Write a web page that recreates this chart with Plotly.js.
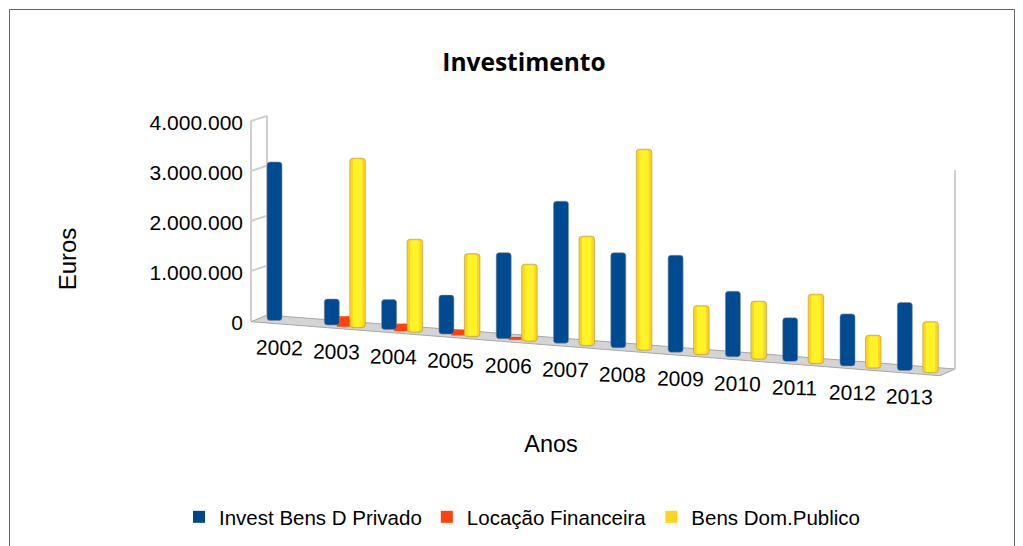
<!DOCTYPE html>
<html>
<head>
<meta charset="utf-8">
<script src="https://cdn.plot.ly/plotly-3.0.1.min.js"></script>
<style>html,body{margin:0;padding:0;background:#fff;overflow:hidden}</style>
</head>
<body>
<div id="chart" style="width:1023px;height:546px"></div>
<script>
const years = [2002,2003,2004,2005,2006,2007,2008,2009,2010,2011,2012,2013];
const investPrivado = [3170000,520000,600000,780000,1720000,2840000,1900000,1940000,1310000,870000,1040000,1360000];
const locacao = [null,210000,150000,120000,60000,null,null,null,null,null,null,null];
const bensPublico = [null,3390000,1860000,1660000,1540000,2190000,4020000,980000,1160000,1390000,660000,1020000];
const seriesNames = ['Invest Bens D Privado','Locação Financeira','Bens Dom.Publico'];
const seriesColors = ['#004586','#ff420e','#ffd320'];
const tickVals = [0,1000000,2000000,3000000,4000000];
const tickText = ['0','1.000.000','2.000.000','3.000.000','4.000.000'];

// Perspective of the sloping floor, expressed in axis units
const euroPerPx = 20000;           // 50 px per million
const yrPerPx = 1 / 57.3;          // one year = 57.3 px
const floorBase = (start, step) => years.map((y, i) => -(start + step * i) * euroPerPx);
const baseBlue = floorBase(-2.5, 4.54);
const baseRed = floorBase(-0.7, 4.4);
const baseYellow = floorBase(0.2, 4.5);
const fontSans = '"Liberation Sans", Arial, sans-serif';

function bar(name, vals, base, color, left, width, lineColor, radius) {
  return {
    type: 'bar', name: name, x: years, y: vals, base: base, showlegend: false,
    offset: left * yrPerPx, width: width * yrPerPx,
    marker: {color: color, cornerradius: radius, line: {color: lineColor, width: lineColor === 'rgba(0,0,0,0)' ? 0 : 1}}
  };
}

// Square legend keys: empty traces so the rounded bar tops do not round the keys
const legendKeys = seriesNames.map((name, k) => ({
  type: 'bar', name: name, x: [years[0]], y: [null], legendrank: k + 1,
  marker: {color: seriesColors[k]}
}));

const traces = [
  bar(seriesNames[1], locacao, baseRed, seriesColors[1], 5, 13, 'rgba(0,0,0,0)', 0),
  bar(seriesNames[0], investPrivado, baseBlue, '#004a92', -7.5, 15, 'rgba(130,140,150,0.55)', 3),
  bar(seriesNames[2], bensPublico, baseYellow, seriesColors[2], 18, 15.5, 'rgba(170,150,60,0.6)', 3),
  bar(seriesNames[2], bensPublico.map(v => v === null ? null : v - 40000), baseYellow.map(v => v + 20000), '#fff226', 21, 9.5, 'rgba(0,0,0,0)', 2)
].concat(legendKeys);

// Floor and wall furniture in axis units
const X = px => 2002 + (px - 274.5) * yrPerPx;
const Y = px => (323 - px) * euroPerPx;
const wall = {color: '#cfcfcf', width: 2};
const seg = (a, b, c, d) => ({type: 'line', xref: 'x', yref: 'y', x0: X(a), y0: Y(b), x1: X(c), y1: Y(d), line: wall, layer: 'below'});
const shapes = [
  {type: 'path', xref: 'x', yref: 'y', layer: 'below', fillcolor: '#d4d4d4',
   line: {color: '#a8a8a8', width: 1},
   path: `M ${X(251)} ${Y(321.7)} L ${X(267)} ${Y(315)} L ${X(955)} ${Y(369)} L ${X(940)} ${Y(375.7)} Z`},
  seg(251, 321, 251, 121), seg(267, 315, 267, 116), seg(251, 121, 267, 116),
  seg(251, 171, 266, 166), seg(251, 221, 266, 216), seg(251, 271, 266, 266),
  seg(955, 170, 955, 369),
  // Outer frame of the chart, in page fractions
  {type: 'rect', xref: 'paper', yref: 'paper', layer: 'below',
   x0: (9.5 - 142) / 818, x1: (1014.5 - 142) / 818, y0: -0.5, y1: (418 - 9.5) / 318,
   line: {color: '#666666', width: 1}, fillcolor: 'rgba(0,0,0,0)'}
];

// Year labels follow the slope of the floor
const annotations = years.map((y, i) => ({
  text: String(y), xref: 'x', yref: 'y', x: y + 4.5 * yrPerPx, y: Y(347.5 + 4.45 * i),
  showarrow: false, xanchor: 'center', yanchor: 'middle', textangle: 1,
  font: {family: fontSans, size: 21, color: '#000'}
}));

const layout = {
  width: 1023, height: 546, paper_bgcolor: '#fff', plot_bgcolor: 'rgba(0,0,0,0)',
  margin: {l: 142, r: 63, t: 100, b: 128, pad: 0},
  barmode: 'overlay', showlegend: true,
  title: {text: 'Investimento', x: 524 / 1023, xref: 'container', xanchor: 'center', y: 1 - 62 / 546, yref: 'container', yanchor: 'middle',
          font: {family: '"Open Sans", sans-serif', size: 24.5, color: '#000', weight: 700}},
  xaxis: {range: [X(142), X(960)], showticklabels: false, ticks: '', showgrid: false, zeroline: false, showline: false,
          title: {text: 'Anos', standoff: 17, font: {family: fontSans, size: 23.5, color: '#000'}}},
  yaxis: {range: [Y(418), Y(100)], tickvals: tickVals, ticktext: tickText, anchor: 'free', position: (252 - 142) / 818,
          ticks: '', ticklabelstandoff: 9, showgrid: false, zeroline: false, showline: false,
          tickfont: {family: fontSans, size: 21, color: '#000'},
          title: {text: 'Euros', standoff: 65, font: {family: fontSans, size: 24, color: '#000'}}},
  legend: {orientation: 'h', x: 522 / 1023, xref: 'container', xanchor: 'center', y: 1 - 517 / 546, yref: 'container', yanchor: 'middle',
           font: {family: fontSans, size: 20.5, color: '#000'}, bgcolor: 'rgba(0,0,0,0)', itemclick: false, itemdoubleclick: false},
  shapes: shapes, annotations: annotations
};

Plotly.newPlot('chart', traces, layout, {displayModeBar: false, staticPlot: true});
</script>
</body>
</html>
